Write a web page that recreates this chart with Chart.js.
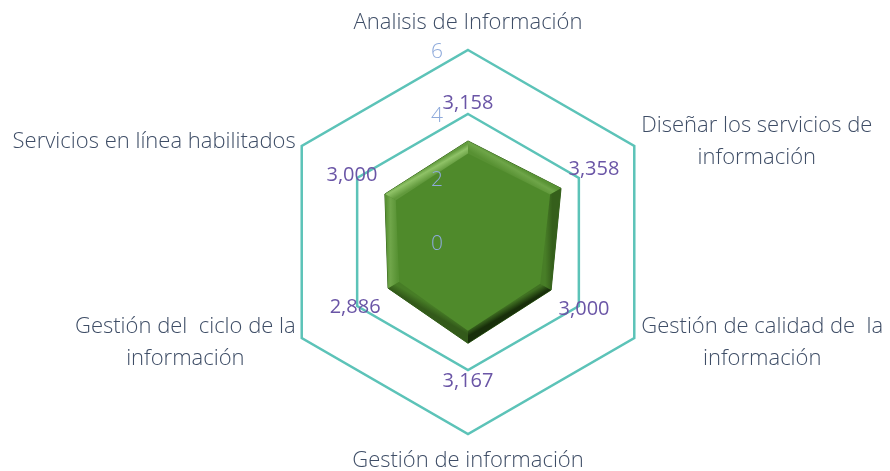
<!DOCTYPE html>
<html>
<head>
<meta charset="utf-8">
<script src="https://cdn.jsdelivr.net/npm/chart.js@4.4.1/dist/chart.umd.min.js"></script>
<style>
  html, body { margin: 0; background: #fff; }
  #wrap { width: 890px; height: 471px; }
</style>
</head>
<body>
<div id="wrap"><canvas id="radar_chart"></canvas></div>
<script>
// datos
const categorias = [
  ['Analisis de Información'],
  ['Diseñar los servicios de', 'información'],
  ['Gestión de calidad de  la', 'información'],
  ['Gestión de información'],
  ['Gestión del  ciclo de la', 'información'],
  ['Servicios en línea habilitados']
];
const valores = [3.158, 3.358, 3.000, 3.167, 2.886, 3.000];
const ejeMin = 0;
const ejeMax = 6;
const ejePaso = 2;

const verdeBase = [79, 138, 43];

function fmt(v) {
  return v.toFixed(3).replace('.', ',');
}

function mezcla(c, o, k) {
  return 'rgb(' + c.map((x, i) => Math.round(x + (o[i] - x) * k)).join(',') + ')';
}

const capas = {
  id: 'capas',
  afterDatasetsDraw(chart) {
    const ctx = chart.ctx;
    const r = chart.scales.r;
    const pts = chart.getDatasetMeta(0).data.map(p => ({ x: p.x, y: p.y }));
    const cx = r.xCenter, cy = r.yCenter;

    // bisel del hexágono verde
    const d = 11;
    const inner = pts.map(p => {
      const vx = cx - p.x, vy = cy - p.y;
      const len = Math.hypot(vx, vy);
      return { x: p.x + vx / len * d * 1.15, y: p.y + vy / len * d * 1.15 };
    });
    const L = { x: -0.5, y: -0.86 };
    ctx.save();
    for (let i = 0; i < pts.length; i++) {
      const j = (i + 1) % pts.length;
      const mx = (pts[i].x + pts[j].x) / 2, my = (pts[i].y + pts[j].y) / 2;
      const mix = (inner[i].x + inner[j].x) / 2, miy = (inner[i].y + inner[j].y) / 2;
      const nl = Math.hypot(mx - cx, my - cy);
      const k = ((mx - cx) * L.x + (my - cy) * L.y) / nl;
      const claro = [150, 200, 110], oscuro = [18, 36, 6];
      const tono = k > 0 ? mezcla(verdeBase, claro, k * 0.9) : mezcla(verdeBase, oscuro, -k * 0.9);
      const g = ctx.createLinearGradient(mx, my, mix, miy);
      g.addColorStop(0, k > 0 ? mezcla(verdeBase, claro, k * 0.3) : tono);
      g.addColorStop(0.35, tono);
      g.addColorStop(1, mezcla(verdeBase, k > 0 ? claro : oscuro, Math.abs(k) * 0.25));
      ctx.beginPath();
      ctx.moveTo(pts[i].x, pts[i].y);
      ctx.lineTo(pts[j].x, pts[j].y);
      ctx.lineTo(inner[j].x, inner[j].y);
      ctx.lineTo(inner[i].x, inner[i].y);
      ctx.closePath();
      ctx.fillStyle = g;
      ctx.fill();
    }

    // marcas del eje
    ctx.font = '300 21px "Open Sans"';
    ctx.fillStyle = '#8eaadb';
    ctx.textAlign = 'center';
    ctx.textBaseline = 'middle';
    r.ticks.forEach(t => {
      ctx.fillText(String(t.value), cx - 31, cy - r.getDistanceFromCenterForValue(t.value) + 2);
    });

    // etiquetas de datos
    ctx.font = '20px "Open Sans"';
    ctx.fillStyle = '#6a55a6';
    valores.forEach((v, i) => {
      const p = r.getPointPosition(i, r.getDistanceFromCenterForValue(v) + 38);
      ctx.fillText(fmt(v), p.x, p.y);
    });

    // categorías
    ctx.font = '300 22px "Open Sans"';
    ctx.fillStyle = '#3e4d66';
    const lh = 32;
    categorias.forEach((lineas, i) => {
      const v = r.getPointPosition(i, r.drawingArea);
      const ang = r.getIndexAngle(i);
      const sx = Math.sin(ang), sy = -Math.cos(ang);
      const bw = Math.max(...lineas.map(s => ctx.measureText(s).width));
      const bh = lineas.length * lh;
      let xc, yc;
      if (Math.abs(sx) < 0.1) {
        xc = v.x;
        yc = v.y + sy * 27;
      } else {
        xc = sx > 0 ? v.x + 7 + bw / 2 : v.x - 6 - bw / 2;
        yc = v.y + sy * 9;
      }
      lineas.forEach((s, k) => {
        ctx.fillText(s, xc, yc - bh / 2 + lh / 2 + k * lh);
      });
    });
    ctx.restore();
  }
};

const ctx = document.getElementById('radar_chart');

new Chart(ctx, {
  type: 'radar',
  data: {
    labels: categorias,
    datasets: [
      {
        label: 'Puntaje',
        data: valores,
        backgroundColor: 'rgb(79, 138, 43)',
        borderColor: 'rgba(52, 96, 28, 1)',
        borderWidth: 1,
        pointRadius: 0,
        fill: true
      }
    ]
  },
  options: {
    responsive: true,
    maintainAspectRatio: false,
    animation: false,
    layout: {
      padding: { top: 50, bottom: 37, left: 218, right: 172 }
    },
    plugins: {
      legend: { display: false },
      tooltip: { enabled: false }
    },
    scales: {
      r: {
        min: ejeMin,
        max: ejeMax,
        ticks: { display: false, stepSize: ejePaso },
        pointLabels: { display: false },
        angleLines: { display: false },
        grid: { color: '#5cc3b8', lineWidth: 2.5 }
      }
    }
  },
  plugins: [capas]
});
</script>
</body>
</html>
